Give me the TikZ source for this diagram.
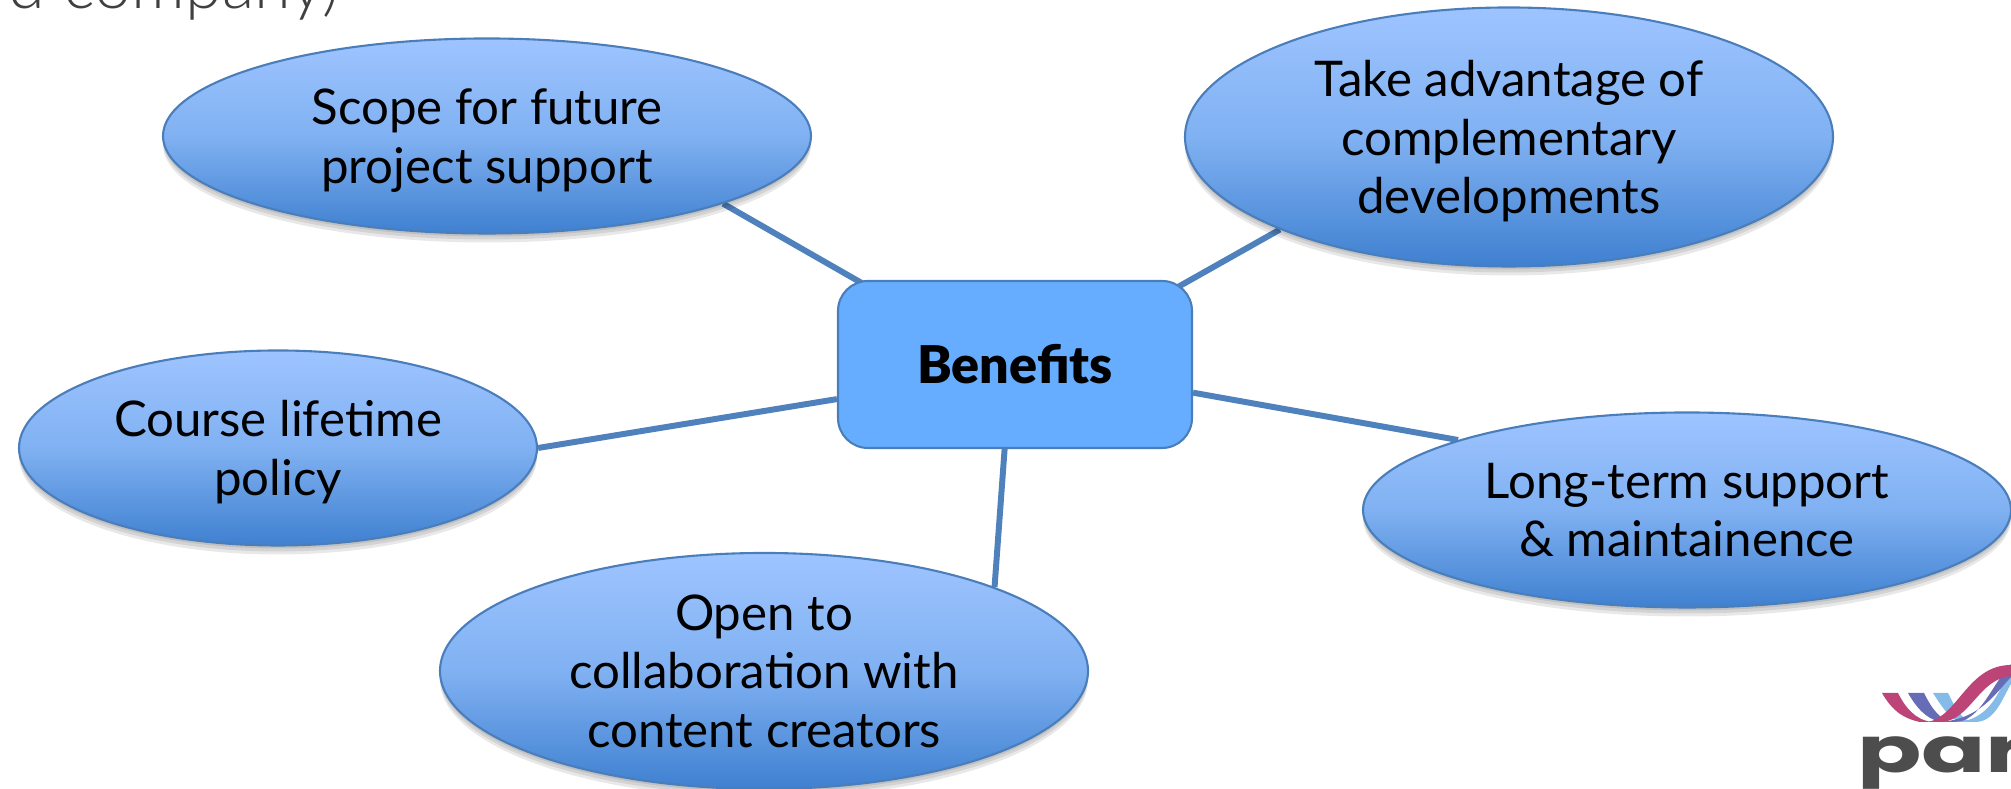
\documentclass[tikz,border=0pt]{standalone}
\usepackage{fontspec}
\setmainfont{Lato}
\newfontfamily\logofont{Poppins}
\newfontfamily\blackfont{Lato Black}
\newfontfamily\lightfont{Lato Light}
\usetikzlibrary{shapes.geometric,shadows,backgrounds}
\definecolor{linkblue}{HTML}{4F81BD}
\definecolor{rimblue}{HTML}{4A7EBB}
\definecolor{boxblue}{HTML}{66ADFF}
\definecolor{lightblue}{HTML}{9EC4FF}
\definecolor{midblue}{HTML}{80B1F2}
\definecolor{deepblue}{HTML}{3F80D0}
\definecolor{headgrey}{HTML}{404040}
\definecolor{logogrey}{HTML}{4D4D4D}
\definecolor{logored}{HTML}{BC4477}
\definecolor{logoblue}{HTML}{666CB5}
\definecolor{logosky}{HTML}{84BBE8}
\tikzset{
	softshadow/.style={drop shadow={shadow xshift=0pt,shadow yshift=-#1,fill=black,opacity=0.09}},
	ell/.style={ellipse,draw=rimblue,line width=0.6pt,inner sep=0pt,minimum width=6.48cm,minimum height=1.95cm,
		top color=lightblue,bottom color=deepblue,middle color=midblue,align=center,font=\fontsize{14}{16.6}\selectfont,
		text depth=0pt,softshadow=0.09cm,softshadow=0.06cm,softshadow=0.03cm},
	link/.style={draw=linkblue,line width=1.7pt},
}
\begin{document}
\begin{tikzpicture}
	\useasboundingbox (0,0) rectangle (20.11,7.89);
	\clip (0,0) rectangle (20.11,7.89);
	
	\node (head) [anchor=base west,inner sep=0pt,text=headgrey,font=\lightfont\fontsize{19}{21}\selectfont] at (0.08,7.80) {d company)};
	
	\node (scope) [ell] at (4.87,6.53) {Scope for future\\project support};
	\node (take) [ell,minimum height=2.59cm] at (15.09,6.52) {Take advantage of\\complementary\\developments};
	\node (course) [ell,minimum width=5.18cm] at (2.78,3.41) {Course lifetime\\policy};
	\node (long) [ell] at (16.87,2.79) {Long-term support\\ \& maintainence};
	\node (open) [ell,minimum height=2.36cm] at (7.64,1.18) {Open to\\collaboration with\\content creators};
	\node (benefits) [draw=rimblue,fill=boxblue,line width=0.6pt,rounded corners=0.3cm,minimum width=3.54cm,minimum height=1.67cm,font=\blackfont\fontsize{14.8}{18}\selectfont] at (10.15,4.245) {Benefits};
	
	\coordinate (inscope) at ([shift={(-1.49,0.79)}]benefits.center);
	\coordinate (intake) at ([shift={(1.55,0.73)}]benefits.center);
	
	\begin{pgfonlayer}{background}
		\foreach \a/\b in {inscope/scope.-16.3,intake/take.202,benefits.191.6/course.0.4,benefits.-9.8/long.163,benefits.263/open.20.3}
		\draw [link] (\a) -- (\b);
	\end{pgfonlayer}
	
	% logo, cut off by the right edge
	\fill [logosky] (19.33,0.96) -- (19.48,0.96) .. controls (19.55,0.82) and (19.62,0.67) .. (19.75,0.67) -- (19.60,0.67) .. controls (19.49,0.71) and (19.42,0.82) .. cycle;
	\fill [logosky] (19.75,0.67) .. controls (19.95,0.67) and (20.02,0.90) .. (20.11,1.05) -- (20.11,1.20) .. controls (20.00,1.02) and (19.93,0.72) .. (19.60,0.67) -- cycle;
	\fill [logoblue] (19.08,0.96) -- (19.24,0.96) .. controls (19.31,0.82) and (19.40,0.67) .. (19.55,0.67) -- (19.40,0.67) .. controls (19.25,0.71) and (19.16,0.82) .. cycle;
	\fill [logoblue] (19.55,0.67) .. controls (19.80,0.67) and (19.92,1.05) .. (20.11,1.25) -- (20.11,1.12) .. controls (19.95,0.95) and (19.80,0.70) .. (19.40,0.67) -- cycle;
	\fill [logored] (18.82,0.96) -- (18.98,0.96) .. controls (19.05,0.82) and (19.15,0.69) .. (19.32,0.67) -- (19.20,0.67) .. controls (19.00,0.71) and (18.90,0.82) .. cycle;
	\fill [logored] (19.28,0.67) .. controls (19.58,0.73) and (19.68,1.24) .. (20.11,1.24) -- (20.11,1.13) .. controls (19.78,1.10) and (19.70,0.67) .. (19.40,0.67) -- cycle;
	\node (logo) [anchor=base west,inner sep=0pt,xscale=1.5,text=logogrey,font=\logofont\fontsize{18}{21}\selectfont\bfseries] at (18.56,0.16) {par};
\end{tikzpicture}
\end{document}
